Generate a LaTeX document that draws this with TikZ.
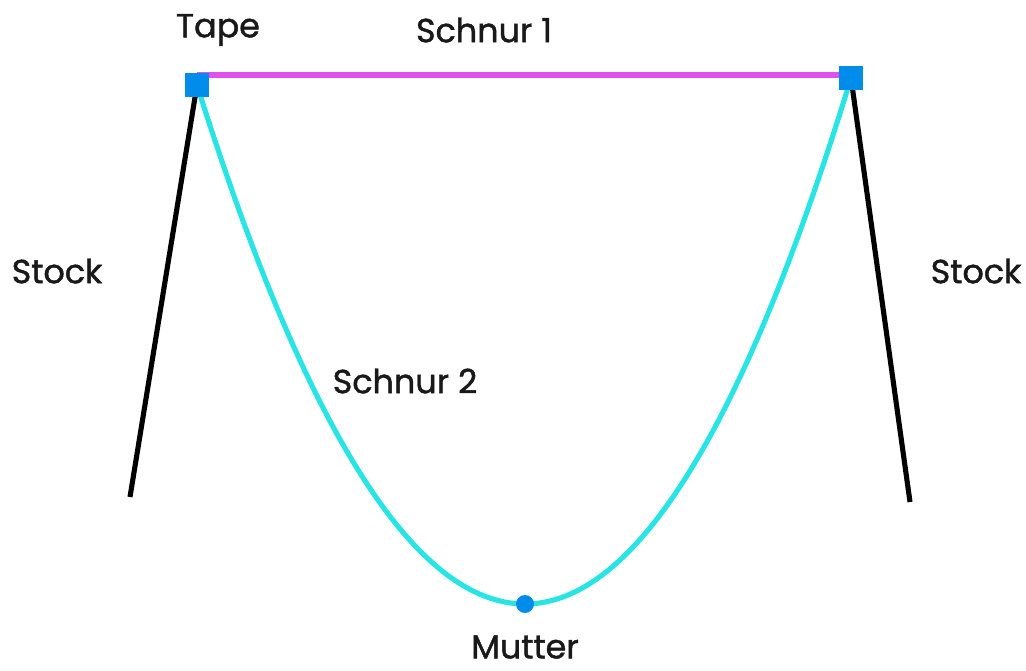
\documentclass[tikz,border=0pt]{standalone}
\usepackage{fontspec}
\setmainfont{Poppins}[FakeBold=1.3]
\usetikzlibrary{backgrounds}
\definecolor{schnurA}{RGB}{225,80,235}
\definecolor{schnurB}{RGB}{40,228,228}
\definecolor{tapeblue}{RGB}{0,140,235}

\begin{document}
\begin{tikzpicture}[x=0.02cm, y=-0.02cm,
    tape/.style={rectangle, fill=tapeblue, minimum size=0.48cm, inner sep=0pt},
    nut/.style={circle, fill=tapeblue, minimum size=0.36cm, inner sep=0pt},
    stock/.style={line width=2.9pt, black},
    schnur1/.style={line width=2.9pt, schnurA},
    schnur2/.style={line width=2.9pt, schnurB},
    label text/.style={font=\fontsize{19}{22}\selectfont, text=black!90, inner sep=0pt}
]
\useasboundingbox (0,0) rectangle (1026,670);

% Tapes and nut
\node[tape] (tapeL) at (197,85) {};
\node[tape] (tapeR) at (851,78) {};
\node[nut] (mutter) at (525,604) {};

% free ends of the sticks
\coordinate (footL) at (130,497);
\coordinate (footR) at (910,502);

% Labels
\node[label text] (lTape) at (218,30) {Tape};
\node[label text] (lSchnur1) at (484,30) {Schnur 1};
\node[label text] (lStockL) at (57,271) {Stock};
\node[label text] (lStockR) at (976,271) {Stock};
\node[label text] (lSchnur2) at (405,381) {Schnur 2};
\node[label text] (lMutter) at (525,647) {Mutter};

\begin{pgfonlayer}{background}
% Sticks
\draw[stock] (tapeL.center) -- (footL);
\draw[stock] (tapeR.center) -- (footR);
% Strings
\draw[schnur1] (tapeL |- 0,75) -- (tapeR |- 0,75);
\draw[schnur2] (tapeL.center) .. controls (306,432) and (416,604) .. (mutter.center)
    .. controls (634,604) and (743,431) .. (tapeR.center);
\end{pgfonlayer}

\end{tikzpicture}
\end{document}
